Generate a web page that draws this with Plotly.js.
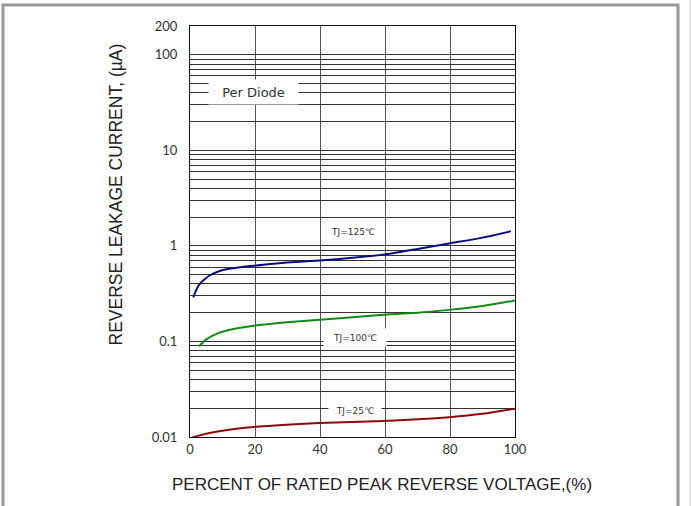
<!DOCTYPE html>
<html>
<head>
<meta charset="utf-8">
<script src="https://cdn.plot.ly/plotly-3.0.1.min.js"></script>
<style>
html,body{margin:0;padding:0;background:#fff;}
#chart{width:691px;height:506px;}
</style>
</head>
<body>
<div id="chart"></div>
<script>
// Percent of rated peak reverse voltage (%)
var tj125X = [1, 2, 3, 4.6, 6, 8.7, 12, 16, 19.6, 25.8, 33.8, 40, 50, 59.4, 70, 79.7, 90, 98.7];
var tj125Y = [0.29, 0.35, 0.40, 0.45, 0.49, 0.54, 0.575, 0.60, 0.62, 0.652, 0.684, 0.705, 0.75, 0.81, 0.93, 1.06, 1.22, 1.42];

var tj100X = [2.8, 5, 8.7, 12, 19.6, 25.8, 33.8, 40, 50, 59.4, 70, 79.7, 90, 100];
var tj100Y = [0.089, 0.105, 0.122, 0.132, 0.146, 0.154, 0.163, 0.169, 0.179, 0.19, 0.20, 0.214, 0.235, 0.269];

var tj25X = [0.5, 3, 7.2, 12, 19.5, 25, 33.8, 45, 59.4, 70, 79.7, 90, 100];
var tj25Y = [0.0098, 0.0104, 0.0112, 0.0119, 0.0127, 0.0131, 0.0137, 0.0142, 0.0147, 0.0153, 0.0161, 0.0175, 0.0198];

var xTicks = [0, 20, 40, 60, 80, 100];
var yLabelVals = [0.01, 0.1, 1, 10, 100, 200];
var yLabelText = ["0.01", "0.1", "1", "10", "100", "200"];

var seriesNames = ["TJ=125℃", "TJ=100℃", "TJ=25℃"];
var seriesColors = ["#0a0a82", "#138a13", "#8b0a0a"];

// gridline positions: 1..9 of each decade plus 200, labels only at chosen values
var yGridVals = [];
var yGridText = [];
[0.01, 0.1, 1, 10].forEach(function (d) {
  for (var m = 1; m <= 9; m++) {
    var v = +(d * m).toPrecision(3);
    yGridVals.push(v);
  }
});
yGridVals.push(100, 200);
yGridVals.forEach(function (v) {
  var idx = yLabelVals.indexOf(v);
  yGridText.push(idx >= 0 ? yLabelText[idx] : "");
});

var traces = [
  {x: tj125X, y: tj125Y, name: seriesNames[0], type: "scatter", mode: "lines",
   line: {color: seriesColors[0], width: 2, shape: "spline", smoothing: 0.7}},
  {x: tj100X, y: tj100Y, name: seriesNames[1], type: "scatter", mode: "lines",
   line: {color: seriesColors[1], width: 2, shape: "spline", smoothing: 0.7}},
  {x: tj25X, y: tj25Y, name: seriesNames[2], type: "scatter", mode: "lines",
   line: {color: seriesColors[2], width: 2, shape: "spline", smoothing: 0.7}}
];

var tickFont = {family: "Lato, 'DejaVu Sans', sans-serif", size: 13, color: "#333"};
var labFont = {family: "'DejaVu Sans', sans-serif", size: 9, color: "#333"};

var layout = {
  width: 691, height: 506,
  margin: {l: 190, r: 176, t: 26, b: 69, pad: 0},
  paper_bgcolor: "#fff", plot_bgcolor: "#fff",
  showlegend: false,
  xaxis: {
    range: [0, 100], tickvals: xTicks, ticks: "", showgrid: true,
    gridcolor: "#555", gridwidth: 1, zeroline: false,
    showline: true, linecolor: "#111", linewidth: 1, mirror: true,
    tickfont: tickFont, fixedrange: true
  },
  yaxis: {
    type: "log", range: [-2, Math.log10(200)],
    tickvals: yGridVals, ticktext: yGridText, ticks: "",
    showgrid: true, gridcolor: "#333", gridwidth: 1, zeroline: false,
    showline: true, linecolor: "#111", linewidth: 1, mirror: true,
    tickfont: tickFont, ticklabelstandoff: 9, fixedrange: true
  },
  annotations: [
    {text: "PERCENT OF RATED PEAK REVERSE VOLTAGE,(%)", xref: "paper", yref: "paper",
     x: 0.591, y: -0.1144, showarrow: false, xanchor: "center", yanchor: "middle",
     font: {family: "'Liberation Sans', Arial, sans-serif", size: 17, color: "#222"}},
    {text: "REVERSE LEAKAGE CURRENT, (µA)", xref: "paper", yref: "paper",
     x: -0.2277, y: 0.59, showarrow: false, textangle: -90, xanchor: "center", yanchor: "middle",
     font: {family: "'Liberation Sans', Arial, sans-serif", size: 17.5, color: "#222"}},
    {text: "Per Diode", xref: "paper", yref: "paper", x: 0.1954, y: 0.8394,
     showarrow: false, xanchor: "center", yanchor: "middle", bgcolor: "#fff",
     width: 87, height: 22,
     font: {family: "'DejaVu Sans', sans-serif", size: 13, color: "#333"}},
    {text: seriesNames[0], xref: "paper", yref: "paper", x: 0.5, y: 0.4995,
     showarrow: false, xanchor: "center", yanchor: "middle", bgcolor: "#fff",
     width: 56, height: 15, font: labFont},
    {text: seriesNames[1], xref: "paper", yref: "paper", x: 0.5077, y: 0.2421,
     showarrow: false, xanchor: "center", yanchor: "middle", bgcolor: "#fff",
     width: 60, height: 15, font: labFont},
    {text: seriesNames[2], xref: "paper", yref: "paper", x: 0.5077, y: 0.0645,
     showarrow: false, xanchor: "center", yanchor: "middle", bgcolor: "#fff",
     width: 50, height: 15, font: labFont}
  ],
  shapes: [
    {type: "rect", xref: "paper", yref: "paper", x0: -0.5754, x1: 1.5015, y0: -0.178, y1: 1.0511,
     line: {color: "#999", width: 3}, fillcolor: "rgba(0,0,0,0)", layer: "below"},
    {type: "line", xref: "paper", yref: "paper", x0: 1.5385, x1: 1.5385, y0: -0.178, y1: 1.07,
     line: {color: "#ccc", width: 1}}
  ]
};

Plotly.newPlot("chart", traces, layout, {displayModeBar: false, staticPlot: true});
</script>
</body>
</html>
